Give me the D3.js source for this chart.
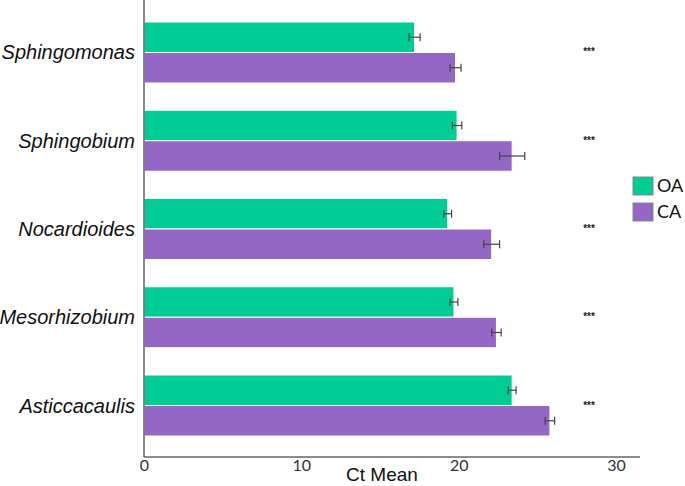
<!DOCTYPE html>
<html>
<head>
<meta charset="utf-8">
<script src="https://cdn.jsdelivr.net/npm/d3@7"></script>
<style>
  body { margin: 0; background: #fff; }
</style>
</head>
<body>
<div id="chart"></div>
<script>
// data
var genera = ["Sphingomonas", "Sphingobium", "Nocardioides", "Mesorhizobium", "Asticcacaulis"];
var groups = ["OA", "CA"];
var oaMean = [17.2, 19.9, 19.3, 19.7, 23.4];
var oaErr = [0.35, 0.3, 0.25, 0.25, 0.25];
var caMean = [19.8, 23.4, 22.1, 22.4, 25.8];
var caErr = [0.35, 0.8, 0.5, 0.3, 0.3];
var signif = ["***", "***", "***", "***", "***"];
var xTicks = [0, 10, 20, 30];

var colors = {OA: "#00cc96", CA: "#9467c6"};

var width = 685, height = 486;
var svg = d3.select("#chart").append("svg")
    .attr("width", width)
    .attr("height", height);

// scales
var x = d3.scaleLinear().domain([0, 30]).range([144, 616]);
var y = d3.scaleBand().domain(genera).range([22, 436]).paddingInner(0.309).paddingOuter(0);
var yIn = d3.scaleBand().domain(groups).range([0, y.bandwidth()]).padding(0);

var rows = [];
genera.forEach(function(g, i) {
    rows.push({genus: g, grp: "OA", mean: oaMean[i], err: oaErr[i]});
    rows.push({genus: g, grp: "CA", mean: caMean[i], err: caErr[i]});
});

// bars
svg.append("g").selectAll("rect")
    .data(rows)
    .enter().append("rect")
    .attr("x", x(0))
    .attr("y", function(d) { return y(d.genus) + yIn(d.grp); })
    .attr("width", function(d) { return x(d.mean) - x(0); })
    .attr("height", yIn.bandwidth())
    .attr("fill", function(d) { return colors[d.grp]; })
    .attr("stroke", "#fff")
    .attr("stroke-width", 1);

// error bars
var eb = svg.append("g").attr("stroke", "#444").attr("stroke-width", 1.2);
rows.forEach(function(d) {
    var cy = y(d.genus) + yIn(d.grp) + yIn.bandwidth() / 2;
    eb.append("line").attr("x1", x(d.mean - d.err)).attr("x2", x(d.mean + d.err)).attr("y1", cy).attr("y2", cy);
    eb.append("line").attr("x1", x(d.mean - d.err)).attr("x2", x(d.mean - d.err)).attr("y1", cy - 4).attr("y2", cy + 4);
    eb.append("line").attr("x1", x(d.mean + d.err)).attr("x2", x(d.mean + d.err)).attr("y1", cy - 4).attr("y2", cy + 4);
});

// significance stars
svg.append("g").selectAll("text")
    .data(genera)
    .enter().append("text")
    .attr("x", 589)
    .attr("y", function(d) { return y(d) + y.bandwidth() / 2 + 3; })
    .attr("text-anchor", "middle")
    .style("font-family", "Liberation Sans, Arial, sans-serif")
    .style("font-size", "10px")
    .style("font-weight", "bold")
    .attr("fill", "#222")
    .text(function(d, i) { return signif[i]; });

// category labels
svg.append("g").selectAll("text")
    .data(genera)
    .enter().append("text")
    .attr("x", 135)
    .attr("y", function(d) { return y(d) + y.bandwidth() / 2; })
    .attr("dy", "0.35em")
    .attr("text-anchor", "end")
    .style("font-family", "Liberation Sans, Arial, sans-serif")
    .style("font-style", "italic")
    .style("font-size", "20px")
    .attr("fill", "#111")
    .text(function(d) { return d; });

// axes
svg.append("line")
    .attr("x1", x(0)).attr("x2", x(0))
    .attr("y1", 0).attr("y2", 457)
    .attr("stroke", "#666").attr("stroke-width", 1.5);

var xAxis = d3.axisBottom(x).tickValues(xTicks).tickSize(0).tickPadding(3);
var gx = svg.append("g")
    .attr("transform", "translate(0,457)")
    .call(xAxis);
gx.select(".domain").attr("d", "M" + x(0) + ",0H" + 640).attr("stroke", "#666").attr("stroke-width", 1.5);
gx.selectAll("text")
    .style("font-family", "Lato, sans-serif")
    .style("font-size", "16px")
    .attr("fill", "#333");

svg.append("text")
    .attr("x", 382)
    .attr("y", 481)
    .attr("text-anchor", "middle")
    .style("font-family", "Liberation Sans, Arial, sans-serif")
    .style("font-size", "19px")
    .attr("fill", "#111")
    .text("Ct Mean");

// legend
var legend = svg.append("g").attr("transform", "translate(633,177)");
groups.forEach(function(g, i) {
    var row = legend.append("g").attr("transform", "translate(0," + (i * 26) + ")");
    row.append("rect")
        .attr("width", 20).attr("height", 18)
        .attr("fill", colors[g])
        .attr("stroke", "#888").attr("stroke-width", 1);
    row.append("text")
        .attr("x", 24).attr("y", 9).attr("dy", "0.35em")
        .style("font-family", "Lato, sans-serif")
        .style("font-size", "18px")
        .attr("fill", "#111")
        .text(g);
});
</script>
</body>
</html>
